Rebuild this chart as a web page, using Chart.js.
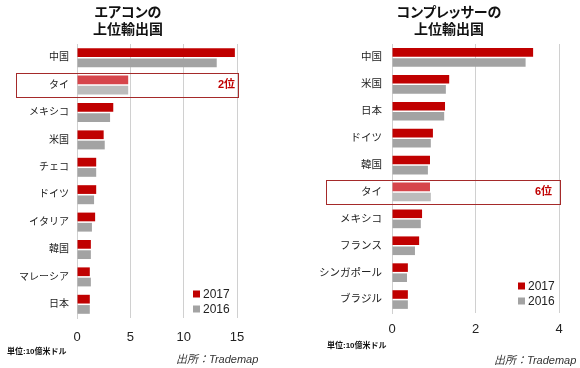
<!DOCTYPE html>
<html>
<head>
<meta charset="utf-8">
<script src="https://cdn.jsdelivr.net/npm/chart.js@4.4.0/dist/chart.umd.min.js"></script>
<style>
  body { margin: 0; background: #fff; }
  #wrap { position: relative; width: 580px; height: 368px; overflow: hidden;
    font-family: "Liberation Sans", "Noto Sans CJK JP", sans-serif; }
  .box { position: absolute; top: 0; width: 290px; height: 368px; }
  .title { position: absolute; top: 4px; text-align: center; font-weight: bold;
    font-size: 14px; line-height: 17px; color: #111; font-feature-settings: "palt"; }
  .unit { position: absolute; font-size: 8px; font-weight: bold; color: #111; }
  .src { position: absolute; font-size: 11px; font-style: italic; color: #333; }
</style>
</head>
<body>
<div id="wrap">
  <div class="box" style="left:0"><canvas id="acChart" width="290" height="368"></canvas></div>
  <div class="box" style="left:290px"><canvas id="compChart" width="290" height="368"></canvas></div>
  <div class="title" style="left:58px;width:140px">エアコンの<br>上位輸出国</div>
  <div class="title" style="left:379px;width:140px">コンプレッサーの<br>上位輸出国</div>
  <div class="unit" style="left:7px;top:345px">単位:10億米ドル</div>
  <div class="unit" style="left:327px;top:339px">単位:10億米ドル</div>
  <div class="src" style="left:176px;top:350px">出所：Trademap</div>
  <div class="src" style="left:494px;top:351px">出所：Trademap</div>
</div>
<script>
// エアコン (air conditioners), billions USD
const acCountries = ["中国", "タイ", "メキシコ", "米国", "チェコ", "ドイツ", "イタリア", "韓国", "マレーシア", "日本"];
const ac2017 = [14.8, 4.8, 3.4, 2.5, 1.8, 1.8, 1.7, 1.3, 1.2, 1.2];
const ac2016 = [13.1, 4.8, 3.1, 2.6, 1.8, 1.6, 1.4, 1.3, 1.3, 1.2];
const acTicks = [0, 5, 10, 15];

// コンプレッサー (compressors), billions USD
const compCountries = ["中国", "米国", "日本", "ドイツ", "韓国", "タイ", "メキシコ", "フランス", "シンガポール", "ブラジル"];
const comp2017 = [3.38, 1.37, 1.27, 0.98, 0.91, 0.91, 0.72, 0.65, 0.38, 0.38];
const comp2016 = [3.2, 1.29, 1.25, 0.93, 0.86, 0.93, 0.69, 0.55, 0.36, 0.38];
const compTicks = [0, 2, 4];

const years = ["2017", "2016"];
const RED = "#c00000", GRAY = "#a3a3a3";
const RED_HI = "#d6454b", GRAY_HI = "#bcbcbc";
const FONT = "'Liberation Sans', 'Noto Sans CJK JP', sans-serif";

function colorsFor(labels, base, hi) {
  return labels.map(l => (l === "タイ" ? hi : base));
}

// highlight box around タイ + rank text + legend
const extras = {
  id: "extras",
  afterDraw(chart) {
    const o = chart.options.plugins.extras;
    const ctx = chart.ctx;
    const y = chart.scales.y;
    const idx = chart.data.labels.indexOf("タイ");
    const half = (y.getPixelForValue(1) - y.getPixelForValue(0)) / 2 - 1.5;
    const cy = y.getPixelForValue(idx);
    ctx.save();
    ctx.strokeStyle = "#a52a2a";
    ctx.lineWidth = 1;
    ctx.strokeRect(o.boxLeft + 0.5, Math.round(cy - half) + 0.5, o.boxRight - o.boxLeft, Math.round(half * 2));
    ctx.fillStyle = "#c00000";
    ctx.font = "bold 11px " + FONT;
    ctx.textAlign = "right";
    ctx.textBaseline = "middle";
    ctx.fillText(o.rank, o.rankX, cy);
    // legend
    ctx.font = "12px " + FONT;
    ctx.textAlign = "left";
    [RED, GRAY].forEach((c, i) => {
      const ly = o.legY + i * 15;
      ctx.fillStyle = c;
      ctx.fillRect(o.legX, ly - 3.5, 7, 7);
      ctx.fillStyle = "#222";
      ctx.fillText(years[i], o.legX + 10, ly + 0.5);
    });
    ctx.restore();
  }
};

function makeChart(id, labels, d17, d16, ticks, cfg) {
  return new Chart(document.getElementById(id), {
    type: "bar",
    data: {
      labels: labels,
      datasets: [
        { label: years[0], data: d17, backgroundColor: colorsFor(labels, RED, RED_HI),
          categoryPercentage: 0.75, barPercentage: 0.85 },
        { label: years[1], data: d16, backgroundColor: colorsFor(labels, GRAY, GRAY_HI),
          categoryPercentage: 0.75, barPercentage: 0.85 }
      ]
    },
    options: {
      indexAxis: "y",
      responsive: false,
      animation: false,
      layout: { padding: { top: 44, right: cfg.padRight, bottom: cfg.padBottom, left: 0 } },
      plugins: {
        legend: { display: false },
        tooltip: { enabled: false },
        extras: cfg.extras
      },
      scales: {
        x: {
          min: 0,
          max: ticks[ticks.length - 1],
          afterBuildTicks: s => { s.ticks = ticks.map(v => ({ value: v })); },
          afterFit: s => { s.height = 30; },
          grid: { color: "#d0d0d0", drawTicks: false },
          border: { display: false },
          ticks: { padding: cfg.tickPad, color: "#222", font: { size: 13, family: FONT } }
        },
        y: {
          afterFit: s => { s.width = cfg.yWidth; },
          grid: { display: false, drawTicks: false },
          border: { color: "#d0d0d0" },
          ticks: { padding: cfg.labelPad, color: "#222", font: { size: cfg.labelSize, family: FONT } }
        }
      }
    },
    plugins: [extras]
  });
}

makeChart("acChart", acCountries, ac2017, ac2016, acTicks, {
  padRight: 53, padBottom: 20, tickPad: 12, yWidth: 77, labelPad: 8, labelSize: 10,
  extras: { boxLeft: 16, boxRight: 238, rank: "2位", rankX: 235, legX: 193, legY: 294 }
});
makeChart("compChart", compCountries, comp2017, comp2016, compTicks, {
  padRight: 21, padBottom: 25, tickPad: 9, yWidth: 102, labelPad: 10, labelSize: 10.5,
  extras: { boxLeft: 36, boxRight: 270, rank: "6位", rankX: 262, legX: 228, legY: 286 }
});
</script>
</body>
</html>
